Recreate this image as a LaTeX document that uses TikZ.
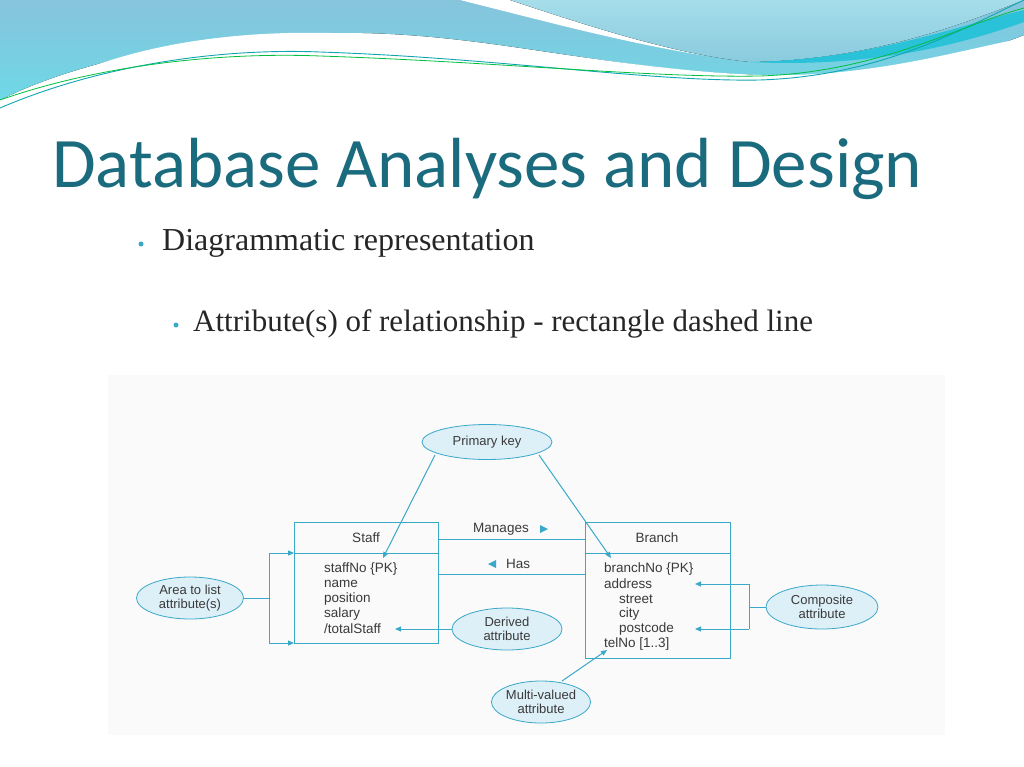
\documentclass[tikz,border=0pt]{standalone}
\usepackage{fontspec}
\setmainfont{Liberation Serif}
\newfontfamily\titlefont{Carlito}
\newfontfamily\dfont{Liberation Sans}
\usetikzlibrary{arrows.meta,shapes.geometric}
\definecolor{teal1}{HTML}{1B6B7E}
\definecolor{ln}{HTML}{3AA8C8}
\definecolor{ellf}{HTML}{DDEFF7}
\definecolor{txt}{HTML}{3A3A3A}
\definecolor{wave1}{HTML}{86C4DC}
\definecolor{wave2}{HTML}{6ED8E6}
\definecolor{wave3}{HTML}{A6DDEA}
\begin{document}
\begin{tikzpicture}[x=1pt,y=-1pt,
  ell/.style={draw=ln,fill=ellf,ellipse,line width=0.8pt,inner sep=0pt,font=\dfont\fontsize{13}{14}\selectfont,text=txt,align=center},
  con/.style={draw=ln,line width=1pt},
  arr/.style={con,-{Triangle[length=6pt,width=5pt]}},
  att/.style={anchor=west,inner sep=0pt,font=\dfont\fontsize{13.5}{14}\selectfont,text=txt},
  bul/.style={circle,fill=ln,inner sep=0pt,minimum size=5pt}]
\useasboundingbox (0,0) rectangle (1024,767);
\fill[white] (0,0) rectangle (1024,767);
% waves
\fill[top color=wave1,bottom color=wave2] (0,0) -- (1024,0) -- (1024,35) .. controls (950,65) and (850,78) .. (760,75) .. controls (600,70) and (480,30) .. (330,33) .. controls (200,36) and (80,60) .. (0,100) -- cycle;
\fill[white] (0,115) .. controls (80,55) and (200,30) .. (330,33) .. controls (480,35) and (620,70) .. (760,75) .. controls (870,78) and (960,50) .. (1024,38) -- (1024,120) -- (0,120) -- cycle;
\fill[white] (460,0) -- (510,0) .. controls (600,30) and (680,55) .. (750,62) -- (750,62) .. controls (650,50) and (560,25) .. (460,0) -- cycle;
\fill[top color=wave3,bottom color=ln!60!white] (510,0) .. controls (600,30) and (680,55) .. (750,62) .. controls (870,60) and (960,25) .. (1024,0) -- cycle;
\fill[ln!70!cyan] (750,62) .. controls (870,60) and (960,25) .. (1024,10) -- (1024,22) .. controls (960,45) and (870,68) .. (750,62) -- cycle;
\draw[teal1!60!cyan,line width=0.9pt] (0,108) .. controls (100,65) and (220,48) .. (320,52) .. controls (500,58) and (650,82) .. (760,80) .. controls (880,76) and (960,30) .. (1024,0);
\draw[green!50!teal,line width=0.8pt] (0,100) .. controls (100,65) and (220,52) .. (320,56) .. controls (500,62) and (650,78) .. (760,76) .. controls (880,72) and (960,25) .. (1024,8);
% title and bullets
\node[anchor=base west,inner sep=0pt,text=teal1,font=\titlefont\fontsize{71}{80}\selectfont] (title) at (52,188) {Database Analyses and Design};
\node[bul] (b1) at (141,244) {};
\node[anchor=base west,inner sep=0pt,font=\fontsize{32}{36}\selectfont,text=black!85] (t1) at (162,250) {Diagrammatic representation};
\node[bul] (b2) at (176,325) {};
\node[anchor=base west,inner sep=0pt,font=\fontsize{31}{36}\selectfont,text=black!85] (t2) at (193,331) {Attribute(s) of relationship - rectangle dashed line};
% diagram background
\fill[black!2] (108,375) rectangle (945,735);
% boxes
\draw[ln,line width=1pt] (294,522) rectangle (438,643);
\draw[ln,line width=1pt] (294,553) -- (438,553);
\draw[ln,line width=1pt] (585,522) rectangle (730,658);
\draw[ln,line width=1pt] (585,553) -- (730,553);
\node[att,anchor=center] (staff) at (366,538) {Staff};
\node[att,anchor=center] (branch) at (657,538) {Branch};
\node[att] (s1) at (324,569) {staffNo \{PK\}};
\node[att] (s2) at (324,584) {name};
\node[att] (s3) at (324,599) {position};
\node[att] (s4) at (324,614) {salary};
\node[att] (s5) at (324,629) {/totalStaff};
\node[att] (r1) at (604,569) {branchNo \{PK\}};
\node[att] (r2) at (604,584) {address};
\node[att] (r3) at (619,599) {street};
\node[att] (r4) at (619,614) {city};
\node[att] (r5) at (619,629) {postcode};
\node[att] (r6) at (604,644) {telNo [1..3]};
% relationships
\coordinate (m1) at (438,539); \coordinate (m2) at (585,539);
\draw[con] (m1) -- (m2);
\coordinate (h1) at (438,574); \coordinate (h2) at (585,574);
\draw[con] (h1) -- (h2);
\node[att,anchor=center] (man) at (501,529) {Manages};
\fill[ln] (540,525) -- (548,529) -- (540,533) -- cycle;
\node[att,anchor=center] (has) at (518,564) {Has};
\fill[ln] (496,560) -- (488,564) -- (496,568) -- cycle;
% ellipses
\node[ell,minimum width=130pt,minimum height=35pt] (pk) at (487,442) {Primary key};
\node[ell,minimum width=107pt,minimum height=42pt] (area) at (190,598) {Area to list\\attribute(s)};
\node[ell,minimum width=110pt,minimum height=42pt] (der) at (507,629) {Derived\\attribute};
\node[ell,minimum width=112pt,minimum height=44pt] (comp) at (822,607) {Composite\\attribute};
\node[ell,minimum width=96pt,minimum height=42pt] (multi) at (541,702) {Multi-valued\\attribute};
% connectors
\coordinate (pkend1) at (383,558); \coordinate (pkend2) at (611,558);
\coordinate (pks1) at (435,455); \coordinate (pks2) at (539,455);
\draw[arr] (pks1) -- (pkend1);
\draw[arr] (pks2) -- (pkend2);
\coordinate (ab) at (269,598);
\draw[con] (area.east) -- (ab);
\draw[con] (269,553) -- (269,643);
\coordinate (at1) at (294,553); \coordinate (at2) at (294,643);
\draw[arr] (269,553) -- (at1);
\draw[arr] (269,643) -- (at2);
\coordinate (de) at (395,629);
\draw[arr] (der.west) -- (de);
\draw[con] (comp.west) -- (749,607);
\draw[con] (749,584) -- (749,629);
\draw[arr] (749,584) -- (695,584);
\draw[arr] (749,629) -- (695,629);
\coordinate (ms) at (562,681); \coordinate (me) at (607,650);
\draw[arr] (ms) -- (me);
\end{tikzpicture}
\end{document}
